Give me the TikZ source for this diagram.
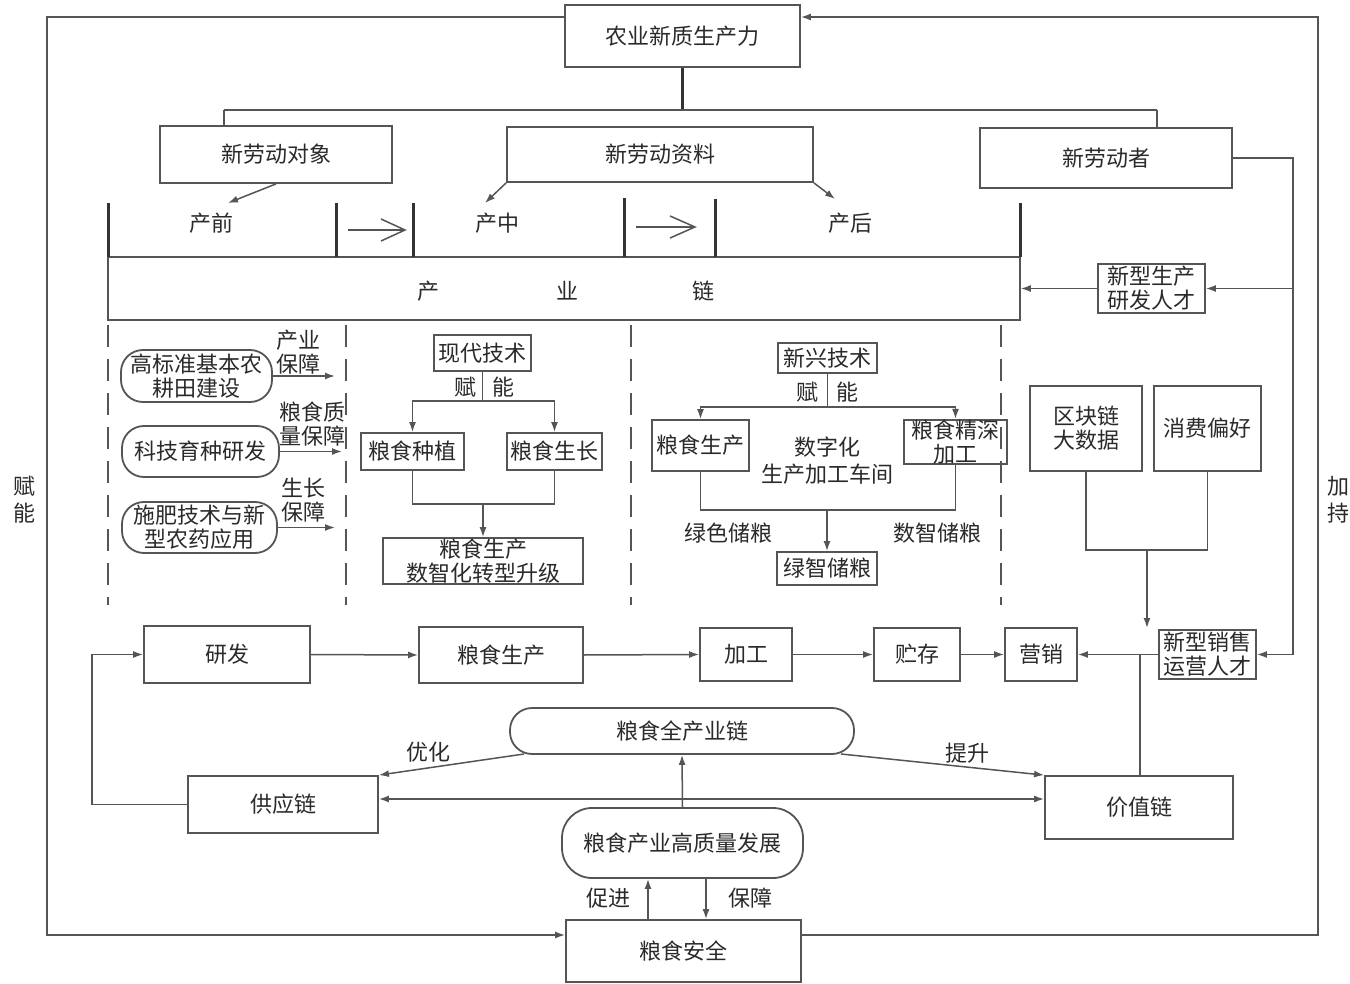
\documentclass[tikz,border=0pt]{standalone}
\usepackage{fontspec}
\setmainfont{Noto Sans CJK SC}
\usetikzlibrary{arrows.meta}
\definecolor{ln}{HTML}{555555}
\definecolor{tx}{HTML}{2A2A2A}
\begin{document}
\begin{tikzpicture}[x=1pt,y=-1pt,
 every node/.style={font=\fontsize{22}{24}\selectfont, text=tx},
 box/.style={draw=ln, line width=1.8pt, inner sep=0pt, align=center},
 rbox/.style={box, rounded corners=22pt},
 bx/.style 2 args={minimum width=#1pt, minimum height=#2pt},
 conn/.style={draw=ln, line width=1.5pt},
 arr/.style={conn, -{Latex[length=10pt,width=7pt]}},
 darr/.style={conn, {Latex[length=10pt,width=7pt]}-{Latex[length=10pt,width=7pt]}},
 thk/.style={draw=black!80, line width=3pt},
 lbl/.style={inner sep=0pt, align=center},
 dsh/.style={draw=ln, line width=2pt, dash pattern=on 22pt off 12pt},
]
\fill[white] (0,0) rectangle (1350,984);
\useasboundingbox (0,0) rectangle (1350,984);

% top part
\node[box,bx={235}{62}] (top) at (682.5,36) {农业新质生产力};
\node[box,bx={232}{57}] (ldx) at (276,154.5) {新劳动对象};
\node[box,bx={306}{55}] (lzl) at (660,154.5) {新劳动资料};
\node[box,bx={252}{60}] (ldz) at (1106,158) {新劳动者};

\coordinate (jt) at (682.5,110);
\coordinate (jl) at (224,110);
\coordinate (jr) at (1157,110);
\draw[thk] (top.south) -- (jt);
\draw[conn] (jl) -- (jr);
\draw[conn] (jl) -- (jl |- ldx.north);
\draw[conn] (jr) -- (jr |- ldz.north);

\coordinate (p1) at (228,203);
\coordinate (p2) at (485,203);
\coordinate (p3) at (835,199);
\draw[arr] (ldx.south) -- (p1);
\draw[arr] (lzl.south west) -- (p2);
\draw[arr] (lzl.south east) -- (p3);

\node[lbl] (s1) at (211,223) {产前};
\node[lbl] (s2) at (497,223) {产中};
\node[lbl] (s3) at (850,223) {产后};

% industry chain bar
\node[box, line width=1.6pt, bx={912}{63}] (chain) at (564,288.5) {};
\node[lbl] (c1) at (428,291) {产};
\node[lbl] (c2) at (567,291) {业};
\node[lbl] (c3) at (703,291) {链};
\foreach \x/\a in {108/203,336/203,413/203,624/198,715/199,1020/203}
  \draw[thk] (\x,\a) -- (\x,257);
\draw[conn] (348,230) -- (405,230);
\draw[conn] (381,219) -- (405,230) -- (381,241);
\draw[conn] (636,227) -- (695,227);
\draw[conn] (670,216) -- (695,227) -- (670,238);

% dashed separators
\foreach \x in {108,346,631,1001}
  \draw[dsh] (\x,325) -- (\x,605);

% left column
\node[rbox,bx={151}{52}] (r1) at (196.5,376) {高标准基本农\\耕田建设};
\node[rbox,bx={157}{51}] (r2) at (200.5,451.5) {科技育种研发};
\node[rbox,bx={155}{51}] (r3) at (199.5,527.5) {施肥技术与新\\型农药应用};
\coordinate (q1) at (335,376);
\coordinate (q2) at (342,451.5);
\coordinate (q3) at (335,527.5);
\draw[arr] (r1.east) -- (q1);
\draw[arr] (r2.east) -- (q2);
\draw[arr] (r3.east) -- (q3);
\node[lbl] at (298,352) {产业\\保障};
\node[lbl] at (312,424) {粮食质\\量保障};
\node[lbl] at (303,500) {生长\\保障};

% middle tree
\node[box,bx={97}{36}] (xd) at (482.5,353) {现代技术};
\node[box,bx={103}{37}] (zz) at (412.5,451.5) {粮食种植};
\node[box,bx={95}{37}] (zc) at (554.5,451.5) {粮食生长};
\node[box,bx={200}{46}] (sz) at (483,561) {粮食生产\\数智化转型升级};
\coordinate (m1) at (482.5,401);
\draw[conn] (xd.south) -- (m1);
\draw[arr] (m1) -| (zz.north);
\draw[arr] (m1) -| (zc.north);
\node[lbl] at (465,387) {赋};
\node[lbl] at (503,387) {能};
\coordinate (m2) at (483,504);
\draw[conn] (zz.south) |- (m2);
\draw[conn] (zc.south) |- (m2);
\draw[arr] (m2) -- (sz.north);

% right tree
\node[box,bx={99}{30}] (xx) at (827.5,358) {新兴技术};
\node[box,bx={97}{51}] (sc) at (700.5,445.5) {粮食生产};
\node[box,bx={103}{44}] (js) at (955.5,442) {粮食精深\\加工};
\node[box,bx={100}{33}] (lz) at (827,568.5) {绿智储粮};
\coordinate (n1) at (827.5,407);
\draw[conn] (xx.south) -- (n1);
\draw[arr] (n1) -| (sc.north);
\draw[arr] (n1) -| (js.north);
\node[lbl] at (807,392) {赋};
\node[lbl] at (847,392) {能};
\node[lbl, font=\fontsize{22}{27}\selectfont] at (827,461) {数字化\\生产加工车间};
\coordinate (n2) at (827,510);
\draw[conn] (sc.south) |- (n2);
\draw[conn] (js.south) |- (n2);
\draw[arr] (n2) -- (lz.north);
\node[lbl] at (728,533) {绿色储粮};
\node[lbl] at (937,533) {数智储粮};

% right column
\node[box,bx={107}{49}] (xs) at (1151.5,288.5) {新型生产\\研发人才};
\node[box,bx={112}{85}] (qk) at (1086,428.5) {区块链\\大数据};
\node[box,bx={107}{85}] (xf) at (1207.5,428.5) {消费偏好};
\draw[arr] (xs.west) -- (chain.east);

% bottom row
\node[box,bx={166}{57}] (yf) at (227,654.5) {研发};
\node[box,bx={164}{56}] (ls) at (501,655) {粮食生产};
\node[box,bx={92}{53}] (jg) at (746,654.5) {加工};
\node[box,bx={86}{53}] (zc2) at (917,654.5) {贮存};
\node[box,bx={72}{53}] (yx) at (1041,654.5) {营销};
\node[box,bx={97}{49}] (xy) at (1207.5,654.5) {新型销售\\运营人才};
\draw[arr] (yf.east) -- (ls.west);
\draw[arr] (ls.east) -- (jg.west);
\draw[arr] (jg.east) -- (zc2.west);
\draw[arr] (zc2.east) -- (yx.west);
\draw[arr] (xy.west) -- (yx.east);

\coordinate (rr1) at (1293,158);
\draw[arr] (ldz.east) -- (rr1) |- (xy.east);
\draw[arr] (rr1) |- (xs.east);

\coordinate (k1) at (1147,550);
\coordinate (k2) at (1147,628);
\draw[conn] (qk.south) |- (k1);
\draw[conn] (xf.south) |- (k1);
\draw[arr] (k1) -- (k2);

% lower part
\node[rbox,bx={344}{46}] (qcy) at (682,731) {粮食全产业链};
\node[box,bx={190}{57}] (gyl) at (283,804.5) {供应链};
\node[box,bx={188}{63}] (jz) at (1139,807.5) {价值链};
\node[box, rounded corners=30pt, bx={241}{70}] (gzl) at (682.5,843) {粮食产业高质量发展};
\node[box,bx={235}{62}] (aq) at (683.5,951) {粮食安全};

\coordinate (v1) at (1140,654.5);
\draw[conn] (v1) -- (v1 |- jz.north);

\coordinate (o1) at (524,754);
\coordinate (o2) at (841,754);
\draw[arr] (o1) -- (gyl.north east);
\draw[arr] (o2) -- (jz.north west);
\node[lbl] at (428,752) {优化};
\node[lbl] at (967,753) {提升};

\coordinate (hy) at (682,799);
\draw[darr] (gyl.east |- hy) -- (jz.west |- hy);
\draw[arr] (gzl.north) -- (qcy.south);

\coordinate (cx) at (648,0);
\coordinate (bz) at (706,0);
\draw[arr] (aq.north -| cx) -- (gzl.south -| cx);
\draw[arr] (gzl.south -| bz) -- (aq.north -| bz);
\node[lbl] at (608,898) {促进};
\node[lbl] at (750,898) {保障};

\coordinate (lp) at (92,0);
\draw[arr] (gyl.west) -- (gyl.west -| lp) |- (yf.west);

% outer frame
\coordinate (fr) at (1318,0);
\coordinate (fl) at (47,0);
\coordinate (fb) at (0,935);
\coordinate (ft) at (0,17);
\draw[arr] (aq.east |- fb) -- (fr |- fb) -- (fr |- ft) -- (top.east |- ft);
\draw[arr] (top.west |- ft) -- (fl |- ft) -- (fl |- fb) -- (aq.west |- fb);

\node[lbl, font=\fontsize{22}{27}\selectfont] at (24,500) {赋\\能};
\node[lbl, font=\fontsize{22}{27}\selectfont] at (1338,500) {加\\持};
\end{tikzpicture}
\end{document}
